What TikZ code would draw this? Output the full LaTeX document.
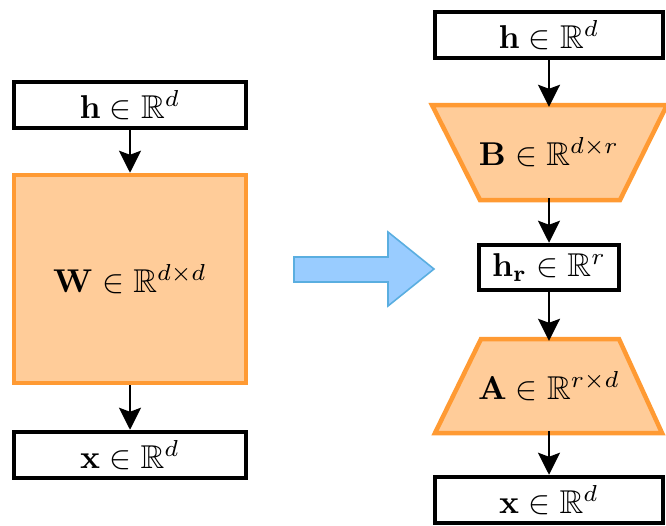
\documentclass[tikz,border=0pt]{standalone}
\usepackage{amssymb}
\usepackage{graphicx}
\usetikzlibrary{arrows.meta}

\definecolor{orfill}{HTML}{FFCC99}
\definecolor{ordraw}{HTML}{FF9A33}
\definecolor{blfill}{HTML}{99CCFF}
\definecolor{bldraw}{HTML}{5AAEE0}

\newcommand{\mlabel}[1]{\scalebox{3.3}{$#1$}}

\tikzset{
  vecbox/.style={draw=black, line width=4.5pt, fill=white, rectangle,
    inner sep=0pt, minimum width=#1, minimum height=46pt},
  matbox/.style={draw=ordraw, fill=orfill, line width=4.5pt, inner sep=0pt},
  matshape/.style={draw=ordraw, fill=orfill, line width=4.5pt, line join=miter},
  slot/.style={rectangle, inner sep=0pt},
  flow/.style={-{Stealth[length=22pt,width=22pt,inset=4pt]}, line width=2.3pt, black},
  bigarrow/.style={draw=bldraw, fill=blfill, line width=1.6pt, line join=miter}
}

\begin{document}
\begin{tikzpicture}[x=1pt, y=-1pt]
  \useasboundingbox (0,0) rectangle (666,525);

  % full-rank layer
  \node[vecbox=232pt] (hL) at (130,105) {\mlabel{\mathbf{h}\in\mathbb{R}^{d}}};
  \node[matbox, rectangle, minimum width=232pt, minimum height=208pt] (W) at (130,279)
    {\mlabel{\mathbf{W}\in\mathbb{R}^{d\times d}}};
  \node[vecbox=232pt] (xL) at (130,455) {\mlabel{\mathbf{x}\in\mathbb{R}^{d}}};

  \draw[flow] (hL.south) -- (W.north);
  \draw[flow] (W.south) -- (xL.north);

  % transition arrow
  \draw[bigarrow] (294,257) -- (388,257) -- (388,232) -- (434,269)
    -- (388,306) -- (388,282) -- (294,282) -- cycle;

  % low-rank factorisation: trapezoid outlines drawn beneath their labels
  \draw[matshape] (432,105) -- (667,105) -- (620,200) -- (480,200) -- cycle;
  \draw[matshape] (481,339) -- (619,339) -- (662,433) -- (435,433) -- cycle;

  \node[vecbox=228pt] (hR) at (549,35) {\mlabel{\mathbf{h}\in\mathbb{R}^{d}}};
  \node[slot, minimum width=235pt, minimum height=95pt] (B) at (549,152.5)
    {\mlabel{\mathbf{B}\in\mathbb{R}^{d\times r}}};
  \node[vecbox=140pt, minimum height=45pt] (hr) at (549,267.5)
    {\mlabel{\mathbf{h}_{\mathbf{r}}\in\mathbb{R}^{r}}};
  \node[slot, minimum width=228pt, minimum height=94pt] (A) at (549,386)
    {\mlabel{\mathbf{A}\in\mathbb{R}^{r\times d}}};
  \node[vecbox=228pt] (xR) at (549,500) {\mlabel{\mathbf{x}\in\mathbb{R}^{d}}};

  \draw[flow] (hR.south) -- ([yshift=-2pt]B.north);
  \draw[flow] ([yshift=2pt]B.south) -- (hr.north);
  \draw[flow] (hr.south) -- ([yshift=-2pt]A.north);
  \draw[flow] ([yshift=2pt]A.south) -- (xR.north);
\end{tikzpicture}
\end{document}
